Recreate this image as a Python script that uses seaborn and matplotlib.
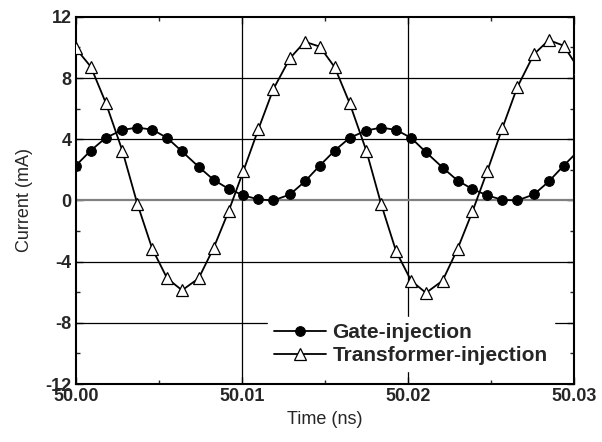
import numpy as np
import pandas as pd
import matplotlib
matplotlib.use('Agg')
import matplotlib.pyplot as plt
import seaborn as sns
from matplotlib.ticker import MultipleLocator

# sample times (ns)
time_ns = [50.0000, 50.0009, 50.0018, 50.0028, 50.0037, 50.0046, 50.0055, 50.0064,
           50.0074, 50.0083, 50.0092, 50.0101, 50.0110, 50.0119, 50.0129, 50.0138,
           50.0147, 50.0156, 50.0165, 50.0175, 50.0184, 50.0193, 50.0202, 50.0211,
           50.0221, 50.0230, 50.0239, 50.0248, 50.0257, 50.0266, 50.0276, 50.0285,
           50.0294, 50.0303]

gate_ma = [2.28, 3.26, 4.09, 4.61, 4.76, 4.63, 4.09, 3.20,
           2.20, 1.35, 0.76, 0.33, 0.07, 0.00, 0.39, 1.24,
           2.28, 3.26, 4.09, 4.57, 4.76, 4.61, 4.09, 3.15,
           2.15, 1.30, 0.74, 0.33, 0.04, 0.00, 0.39, 1.24,
           2.28, 3.26]

transformer_ma = [9.93, 8.74, 6.39, 3.26, -0.20, -3.15, -5.09, -5.87,
                  -5.09, -3.11, -0.72, 1.94, 4.66, 7.27, 9.29, 10.37,
                  10.05, 8.70, 6.35, 3.26, -0.25, -3.33, -5.24, -6.04,
                  -5.24, -3.17, -0.72, 1.94, 4.72, 7.40, 9.55, 10.48,
                  10.11, 8.60]

df = pd.DataFrame({'time': time_ns, 'gate': gate_ma, 'trans': transformer_ma})

sns.set_style('ticks')
plt.rcParams['font.family'] = ['Liberation Sans', 'DejaVu Sans']
plt.rcParams['axes.unicode_minus'] = False
plt.rcParams['xtick.direction'] = 'in'
plt.rcParams['ytick.direction'] = 'in'

fig = plt.figure(figsize=(6.02, 4.42), dpi=100)
ax = fig.add_axes([0.126, 0.131, 0.827, 0.831])

# grid lines
for xv in [50.01, 50.02]:
    ax.axvline(xv, color='black', lw=0.9, zorder=1)
for yv in [-8, -4, 4, 8]:
    ax.axhline(yv, color='black', lw=0.9, zorder=1)
ax.axhline(0, color='#808080', lw=1.6, zorder=1)

sns.lineplot(data=df, x='time', y='gate', ax=ax, color='black', lw=1.3,
             marker='o', markersize=7, markerfacecolor='black',
             markeredgecolor='black', label='Gate-injection', zorder=3)
sns.lineplot(data=df, x='time', y='trans', ax=ax, color='black', lw=1.3,
             marker='^', markersize=8.5, markerfacecolor='white',
             markeredgecolor='black', markeredgewidth=0.9,
             label='Transformer-injection', zorder=3)

ax.set_xlim(50.0, 50.03)
ax.set_ylim(-12, 12)
ax.xaxis.set_major_locator(MultipleLocator(0.01))
ax.xaxis.set_minor_locator(MultipleLocator(0.005))
ax.yaxis.set_major_locator(MultipleLocator(4))
ax.yaxis.set_minor_locator(MultipleLocator(2))
ax.xaxis.set_major_formatter(plt.FormatStrFormatter('%.2f'))
ax.tick_params(which='both', top=True, right=True, width=1.0)
ax.tick_params(which='major', length=5, labelsize=13, pad=3)
ax.tick_params(which='minor', length=3)
for lab in ax.get_xticklabels() + ax.get_yticklabels():
    lab.set_fontweight('bold')
for s in ax.spines.values():
    s.set_linewidth(1.5)
    s.set_color('black')

ax.set_xlabel('Time (ns)', fontsize=13, labelpad=4)
ax.set_ylabel('Current (mA)', fontsize=13, labelpad=9)

leg = ax.legend(loc='lower right', bbox_to_anchor=(0.96, 0.035),
                prop={'size': 15, 'weight': 'bold'}, frameon=True,
                handlelength=2.5, handletextpad=0.3, labelspacing=0.2,
                borderpad=0.3, borderaxespad=0.0, fancybox=False)
leg.get_frame().set_edgecolor('white')
leg.get_frame().set_facecolor('white')
leg.get_frame().set_alpha(1)
leg.set_zorder(5)

fig.savefig('out.png', dpi=100)
